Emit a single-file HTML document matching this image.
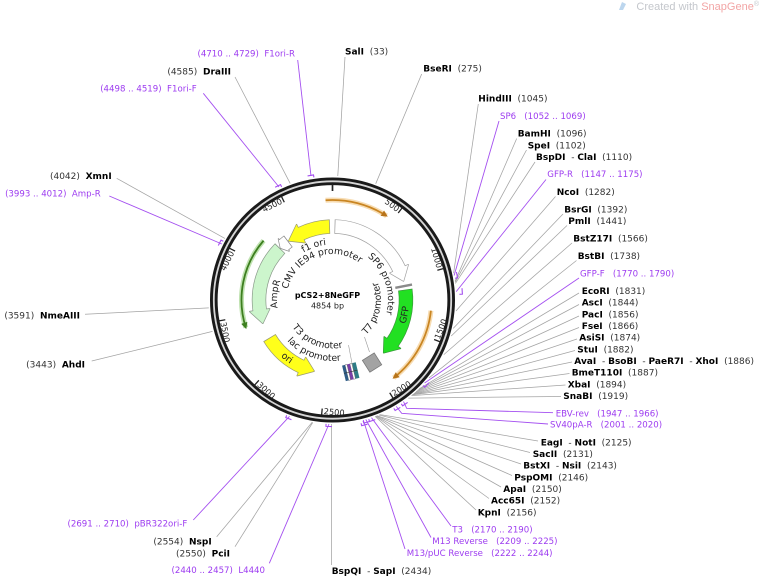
<!DOCTYPE html>
<html><head><meta charset="utf-8"><style>
html,body{margin:0;padding:0;background:#fff;width:760px;height:577px;overflow:hidden}
svg{display:block}
.n{font-weight:bold;fill:#000}
.p{fill:#9d3cf0;font-size:8.6px}
</style></head><body>
<svg xmlns="http://www.w3.org/2000/svg" width="760" height="577" viewBox="0 0 760 577" font-family="'DejaVu Sans','Liberation Sans',sans-serif">
<rect width="760" height="577" fill="#fff"/>
<defs>
<path id="ot" d="M -55.5,0 A 55.5 55.5 0 0 1 55.5,0"/>
<path id="ob" d="M -61,0 A 61 61 0 0 0 61,0"/>
<path id="it" d="M -46,0 A 46 46 0 0 1 46,0"/>
<path id="ib" d="M -48.5,0 A 48.5 48.5 0 0 0 48.5,0"/>
<path id="fb" d="M -76.6,0 A 76.6 76.6 0 0 0 76.6,0"/>
</defs>

<!-- watermark -->
<polygon points="619,10 622,2 626,4 623,10" fill="#bcd6ee"/>
<text x="759" y="10" text-anchor="end" font-family="'Liberation Sans',sans-serif" font-size="11" fill="#c4c7cc">Created with <tspan fill="#f2a5a5">SnapGene</tspan><tspan font-size="7" dy="-4">®</tspan></text>

<!-- leader lines gray -->
<g stroke="#a3a3a3" stroke-width="0.75" fill="none">
<line x1="345" y1="57" x2="337.8" y2="176"/>
<line x1="421.7" y1="74" x2="375.7" y2="183.8"/>
<line x1="235" y1="77" x2="290.2" y2="183.4"/>
<line x1="116.7" y1="178.3" x2="224.9" y2="238.4"/>
<line x1="85" y1="314.3" x2="208.8" y2="307.9"/>
<line x1="91.7" y1="361" x2="212.5" y2="331.4"/>
<line x1="216.7" y1="536.7" x2="312.2" y2="422.3"/>
<line x1="235" y1="546.7" x2="312.8" y2="422.4"/>
<line x1="331.4" y1="565" x2="331.4" y2="424"/>
<line x1="478.3" y1="104" x2="453.6" y2="273.2"/>
<line x1="516.7" y1="138.5" x2="455.1" y2="281.2"/>
<line x1="526.5" y1="150" x2="455.2" y2="282.2"/>
<line x1="535" y1="162" x2="455.4" y2="283.4"/>
<line x1="555.5" y1="196.5" x2="456" y2="311"/>
<line x1="563" y1="214" x2="453.2" y2="328.4"/>
<line x1="567" y1="225.5" x2="451.2" y2="336"/>
<line x1="572" y1="243" x2="443.8" y2="354.6"/>
<line x1="576.5" y1="260.5" x2="429" y2="377.9"/>
<line x1="579" y1="293" x2="419" y2="388.9"/>
<line x1="579" y1="304.5" x2="417.5" y2="390.3"/>
<line x1="579" y1="316" x2="416.1" y2="391.6"/>
<line x1="579" y1="327.5" x2="414.9" y2="392.7"/>
<line x1="577" y1="339" x2="413.9" y2="393.6"/>
<line x1="575" y1="350.5" x2="412.9" y2="394.4"/>
<line x1="572" y1="362" x2="412.4" y2="394.8"/>
<line x1="569.5" y1="373.5" x2="412.3" y2="394.9"/>
<line x1="565.5" y1="385" x2="411.4" y2="395.6"/>
<line x1="561" y1="396.5" x2="408.3" y2="398.1"/>
<line x1="538" y1="441" x2="379.8" y2="414.6"/>
<line x1="530" y1="452.5" x2="378.9" y2="415"/>
<line x1="521" y1="464" x2="377.1" y2="415.7"/>
<line x1="512" y1="475.5" x2="376.6" y2="415.9"/>
<line x1="501" y1="487" x2="376" y2="416.1"/>
<line x1="489" y1="498.5" x2="375.7" y2="416.2"/>
<line x1="476" y1="510" x2="375.1" y2="416.4"/>
</g>
<!-- leader lines purple -->
<g stroke="#a44ff0" stroke-width="0.9" fill="none">
<line x1="297.7" y1="60" x2="311" y2="176"/>
<line x1="203.3" y1="93.3" x2="279" y2="187"/>
<line x1="109.3" y1="196" x2="221.9" y2="244"/>
<line x1="193.3" y1="520" x2="289.5" y2="416.3"/>
<line x1="269.3" y1="563.3" x2="329" y2="424"/>
<line x1="499" y1="121" x2="454.1" y2="275.5"/>
<line x1="546" y1="179.5" x2="456.2" y2="291.6"/>
<line x1="579" y1="278" x2="424.6" y2="383"/>
<polyline points="553,412.7 406.7,408.3 403.5,401.6"/>
<polyline points="548,424 401.7,413.3 396.2,406.4"/>
<line x1="451" y1="526" x2="371.5" y2="417.7"/>
<line x1="431" y1="537.5" x2="365.8" y2="419.5"/>
<line x1="405" y1="549" x2="363.3" y2="420.1"/>
</g>

<g transform="translate(332.5 300)">
<!-- primer markers -->
<g stroke="#a44ff0" stroke-width="1.1" fill="none">
<path transform="rotate(350)" d="M -3,-126.5 H 3 V -124"/>
<path transform="rotate(334.4)" d="M -3,-126.5 H 3 V -124"/>
<path transform="rotate(296.9)" d="M -3,-126.5 H 3 V -124"/>
<path transform="rotate(200.3)" d="M -3,-126.5 H 3 V -124"/>
<path transform="rotate(181.6)" d="M -3,-126.5 H 3 V -124"/>
<path transform="rotate(78.6)" d="M -3,-127 H 3 V -124.5"/>
<path transform="rotate(86.1)" d="M -3,-130 H 3 V -127"/>
<path transform="rotate(132)" d="M -3,-127 H 3 V -124.5"/>
<path transform="rotate(145.1)" d="M -3,-127 H 3 V -124.5"/>
<path transform="rotate(149.1)" d="M -3,-127 H 3 V -124.5"/>
<path transform="rotate(161.7)" d="M -3,-127 H 3 V -124.5"/>
<path transform="rotate(164.4)" d="M -3,-127 H 3 V -124.5"/>
<path transform="rotate(165.6)" d="M -3,-129 H 3 V -126.5"/>
</g>

<!-- backbone -->
<circle r="118.7" fill="none" stroke="#1a1a1a" stroke-width="7.6"/>
<circle r="118.7" fill="none" stroke="#d6d6d6" stroke-width="1.8"/>

<!-- ticks -->
<g stroke="#222" stroke-width="1.3">
<line y1="-109" y2="-115.5" stroke-width="1.7"/>
<line transform="rotate(37.08)" y1="-109" y2="-116"/>
<line transform="rotate(74.17)" y1="-109" y2="-116"/>
<line transform="rotate(111.25)" y1="-109" y2="-116"/>
<line transform="rotate(148.33)" y1="-109" y2="-116"/>
<line transform="rotate(185.41)" y1="-109" y2="-116"/>
<line transform="rotate(222.5)" y1="-109" y2="-116"/>
<line transform="rotate(259.58)" y1="-109" y2="-116"/>
<line transform="rotate(296.66)" y1="-109" y2="-116"/>
<line transform="rotate(333.75)" y1="-109" y2="-116"/>
</g>
<g font-size="8.2" fill="#222">
<g transform="rotate(37.08)"><text x="-1.8" y="-108.8" text-anchor="end">500</text></g>
<g transform="rotate(74.17)"><text x="-1.8" y="-108.8" text-anchor="end">1000</text></g>
<g transform="rotate(-63.34)"><text x="-1.8" y="-108.8" text-anchor="end">4000</text></g>
<g transform="rotate(-26.25)"><text x="-1.8" y="-108.8" text-anchor="end">4500</text></g>
<g transform="rotate(-68.75)"><text x="1.8" y="114.3">1500</text></g>
<g transform="rotate(-31.67)"><text x="1.8" y="114.3">2000</text></g>
<g transform="rotate(5.41)"><text x="1.8" y="114.3">2500</text></g>
<g transform="rotate(42.5)"><text x="1.8" y="114.3">3000</text></g>
<g transform="rotate(79.58)"><text x="1.8" y="114.3">3500</text></g>
</g>

<!-- ORFs -->
<g fill="none">
<circle r="100" transform="rotate(-94)" stroke="#f2c47e" stroke-opacity="0.6" stroke-width="5" stroke-dasharray="64.05 700"/>
<circle r="100" transform="rotate(-94)" stroke="#c98522" stroke-width="1.8" stroke-dasharray="64.05 700"/>
<circle r="99" transform="rotate(6.2)" stroke="#f2c47e" stroke-opacity="0.6" stroke-width="5" stroke-dasharray="78.79 700"/>
<circle r="99" transform="rotate(6.2)" stroke="#c98522" stroke-width="1.8" stroke-dasharray="78.79 700"/>
<circle r="91" transform="rotate(162.3)" stroke="#a4d68e" stroke-opacity="0.7" stroke-width="5" stroke-dasharray="92.76 700"/>
<circle r="91" transform="rotate(162.3)" stroke="#3d7f1f" stroke-width="1.8" stroke-dasharray="92.76 700"/>
</g>
<polygon transform="rotate(32.7)" points="-5,-103.2 -5,-96.8 1.5,-100" fill="#b8741a"/>
<polygon transform="rotate(141.8)" points="-5,-102.2 -5,-95.8 1.5,-99" fill="#b8741a"/>
<polygon transform="rotate(252.3)" points="5,-94.2 5,-87.8 -1.5,-91" fill="#3d7f1f"/>

<!-- feature outlines -->
<g fill="none" stroke-width="14.4">
<circle r="73.5" transform="rotate(244)" stroke="#9a9a70" stroke-dasharray="30.79 700"/>
<circle r="73.5" transform="rotate(-88.4)" stroke="#a0a0a0" stroke-dasharray="81.97 700"/>
<circle r="73.5" transform="rotate(-8.1)" stroke="#3a9a3a" stroke-dasharray="56.57 700"/>
<circle r="73.5" transform="rotate(114.5)" stroke="#9a9a70" stroke-dasharray="44.39 700"/>
<circle r="73.5" transform="rotate(171.5)" stroke="#8a9a8a" stroke-dasharray="68.12 700"/>
<circle r="73.5" transform="rotate(228)" stroke="#888" stroke-dasharray="6.54 700"/>
</g>
<g stroke-width="1.4" stroke-linejoin="round">
<polygon transform="rotate(334.5)" points="0,-83.5 0,-63.5 -14.03,-72.15" fill="#9a9a70" stroke="#9a9a70"/>
<polygon transform="rotate(65)" points="0,-83.5 0,-63.5 12.76,-72.38" fill="#a0a0a0" stroke="#a0a0a0"/>
<polygon transform="rotate(125.5)" points="0,-83.5 0,-63.5 13.27,-72.29" fill="#3a9a3a" stroke="#3a9a3a"/>
<polygon transform="rotate(205)" points="0,-83.5 0,-63.5 -13.39,-72.27" fill="#9a9a70" stroke="#9a9a70"/>
<polygon transform="rotate(262)" points="0,-83.5 0,-63.5 -13.39,-72.27" fill="#8a9a8a" stroke="#8a9a8a"/>
<polygon transform="rotate(318.5)" points="0,-81.5 0,-65.5 -4.49,-73.36" fill="#888" stroke="#888"/>
</g>
<!-- feature fills -->
<g fill="none" stroke-width="13">
<circle r="73.5" transform="rotate(244)" stroke="#ffff1a" stroke-dasharray="30.02 700"/>
<circle r="73.5" transform="rotate(-87.8)" stroke="#ffffff" stroke-dasharray="81.2 700"/>
<circle r="73.5" transform="rotate(-7.5)" stroke="#22e022" stroke-dasharray="55.8 700"/>
<circle r="73.5" transform="rotate(114.5)" stroke="#ffff1a" stroke-dasharray="43.62 700"/>
<circle r="73.5" transform="rotate(171.5)" stroke="#ccf5cc" stroke-dasharray="67.35 700"/>
<circle r="73.5" transform="rotate(228)" stroke="#ffffff" stroke-dasharray="5.77 700"/>
</g>
<polygon transform="rotate(334.5)" points="0,-83.5 0,-63.5 -14.03,-72.15" fill="#ffff1a"/>
<polygon transform="rotate(65)" points="0,-83.5 0,-63.5 12.76,-72.38" fill="#ffffff"/>
<polygon transform="rotate(125.5)" points="0,-83.5 0,-63.5 13.27,-72.29" fill="#22e022"/>
<polygon transform="rotate(205)" points="0,-83.5 0,-63.5 -13.39,-72.27" fill="#ffff1a"/>
<polygon transform="rotate(262)" points="0,-83.5 0,-63.5 -13.39,-72.27" fill="#ccf5cc"/>
<polygon transform="rotate(318.5)" points="0,-81.5 0,-65.5 -4.49,-73.36" fill="#ffffff"/>

<!-- small features -->
<line transform="rotate(79)" x1="0" y1="-64" x2="0" y2="-81" stroke="#8a8a8a" stroke-width="2.4"/>
<polygon transform="rotate(147.7)" points="-7,-81 7,-81 7,-67 -7,-67" fill="#a3a3a3" stroke="#7a7a7a" stroke-width="0.8"/>
<g transform="rotate(166.5)">
<rect x="-8" y="-82" width="4" height="16" fill="#2e7c86"/>
<rect x="-4" y="-82" width="2" height="16" fill="#fff" stroke="#555" stroke-width="0.4"/>
<rect x="-2" y="-82" width="3" height="16" fill="#7a3ea8"/>
<rect x="1" y="-82" width="2" height="16" fill="#fff" stroke="#555" stroke-width="0.4"/>
<rect x="3" y="-82" width="3" height="16" fill="#2e5c86"/>
<line x1="-8" y1="-74" x2="6" y2="-74" stroke="#333" stroke-width="0.6"/>
</g>
<g stroke="#999" stroke-width="0.6">
<line x1="32" y1="37" x2="37" y2="52"/>
<line x1="16" y1="45" x2="20" y2="66"/>
</g>

<!-- feature labels -->
<g font-size="9.3" fill="#222">
<g transform="rotate(-19)"><text><textPath href="#ot" startOffset="50%" text-anchor="middle">f1 ori</textPath></text></g>
<g transform="rotate(-84)"><text><textPath href="#ot" startOffset="50%" text-anchor="middle">AmpR</textPath></text></g>
<g transform="rotate(72)"><text><textPath href="#ot" startOffset="50%" text-anchor="middle">SP6 promoter</textPath></text></g>
<g transform="rotate(20)"><text><textPath href="#ob" startOffset="50%" text-anchor="middle">lac promoter</textPath></text></g>
<g transform="rotate(-20)"><text><textPath href="#it" startOffset="50%" text-anchor="middle">CMV IE94 promoter</textPath></text></g>
<g transform="rotate(-78)"><text><textPath href="#ib" startOffset="50%" text-anchor="middle">T7 promoter</textPath></text></g>
<g transform="rotate(22)"><text><textPath href="#ib" startOffset="50%" text-anchor="middle">T3 promoter</textPath></text></g>
<g transform="rotate(-78.4)"><text><textPath href="#fb" startOffset="50%" text-anchor="middle">GFP</textPath></text></g>
<g transform="rotate(38)"><text><textPath href="#fb" startOffset="50%" text-anchor="middle">ori</textPath></text></g>
</g>
</g>

<!-- center -->
<text x="327.5" y="298" text-anchor="middle" font-size="8" font-weight="bold" fill="#000">pCS2+8NeGFP</text>
<text x="327.5" y="308.5" text-anchor="middle" font-size="8" fill="#222">4854 bp</text>

<!-- left labels -->
<g font-size="9" fill="#333" text-anchor="end">
<text class="p" x="295" y="56.4">(4710 .. 4729)&#160;&#160;F1ori-R</text>
<text x="231" y="74.3">(4585)&#160;&#160;<tspan class="n">DraIII</tspan></text>
<text class="p" x="196.7" y="91.4">(4498 .. 4519)&#160;&#160;F1ori-F</text>
<text x="111.7" y="179">(4042)&#160;&#160;<tspan class="n">XmnI</tspan></text>
<text class="p" x="100.7" y="196.4">(3993 .. 4012)&#160;&#160;Amp-R</text>
<text x="80" y="318.3">(3591)&#160;&#160;<tspan class="n">NmeAIII</tspan></text>
<text x="85" y="367.3">(3443)&#160;&#160;<tspan class="n">AhdI</tspan></text>
<text class="p" x="187.3" y="526.4">(2691 .. 2710)&#160;&#160;pBR322ori-F</text>
<text x="211.7" y="544.3">(2554)&#160;&#160;<tspan class="n">NspI</tspan></text>
<text x="230" y="556.6">(2550)&#160;&#160;<tspan class="n">PciI</tspan></text>
<text class="p" x="265" y="573.1">(2440 .. 2457)&#160;&#160;L4440</text>
</g>

<!-- right labels -->
<g font-size="9" fill="#333">
<text x="345" y="54.3"><tspan class="n">SalI</tspan>&#160;&#160;(33)</text>
<text x="423.3" y="71.6"><tspan class="n">BseRI</tspan>&#160;&#160;(275)</text>
<text x="478.3" y="101.6"><tspan class="n">HindIII</tspan>&#160;&#160;(1045)</text>
<text class="p" x="500" y="119.1">SP6&#160;&#160;&#160;(1052 .. 1069)</text>
<text x="517.7" y="136.6"><tspan class="n">BamHI</tspan>&#160;&#160;(1096)</text>
<text x="527.7" y="148.3"><tspan class="n">SpeI</tspan>&#160;&#160;(1102)</text>
<text x="536" y="160"><tspan class="n">BspDI</tspan>&#160;&#160;-&#160;<tspan class="n">ClaI</tspan>&#160;&#160;(1110)</text>
<text class="p" x="547.3" y="177.1">GFP-R&#160;&#160;&#160;(1147 .. 1175)</text>
<text x="556.7" y="195"><tspan class="n">NcoI</tspan>&#160;&#160;(1282)</text>
<text x="564.3" y="212.6"><tspan class="n">BsrGI</tspan>&#160;&#160;(1392)</text>
<text x="568.3" y="224"><tspan class="n">PmlI</tspan>&#160;&#160;(1441)</text>
<text x="573.3" y="241.6"><tspan class="n">BstZ17I</tspan>&#160;&#160;(1566)</text>
<text x="577.7" y="259"><tspan class="n">BstBI</tspan>&#160;&#160;(1738)</text>
<text class="p" x="580" y="276.4">GFP-F&#160;&#160;&#160;(1770 .. 1790)</text>
<text x="581.7" y="294"><tspan class="n">EcoRI</tspan>&#160;&#160;(1831)</text>
<text x="581.7" y="305.6"><tspan class="n">AscI</tspan>&#160;&#160;(1844)</text>
<text x="581.7" y="317.3"><tspan class="n">PacI</tspan>&#160;&#160;(1856)</text>
<text x="581.7" y="329"><tspan class="n">FseI</tspan>&#160;&#160;(1866)</text>
<text x="579.3" y="340.6"><tspan class="n">AsiSI</tspan>&#160;&#160;(1874)</text>
<text x="577.3" y="352.3"><tspan class="n">StuI</tspan>&#160;&#160;(1882)</text>
<text x="574.3" y="364"><tspan class="n">AvaI</tspan>&#160;&#160;-&#160;<tspan class="n">BsoBI</tspan>&#160;&#160;-&#160;<tspan class="n">PaeR7I</tspan>&#160;&#160;-&#160;<tspan class="n">XhoI</tspan>&#160;&#160;(1886)</text>
<text x="571.7" y="375.6"><tspan class="n">BmeT110I</tspan>&#160;&#160;(1887)</text>
<text x="567.7" y="387.3"><tspan class="n">XbaI</tspan>&#160;&#160;(1894)</text>
<text x="563.3" y="399"><tspan class="n">SnaBI</tspan>&#160;&#160;(1919)</text>
<text class="p" x="555.7" y="416.4">EBV-rev&#160;&#160;&#160;(1947 .. 1966)</text>
<text class="p" x="550" y="427.4">SV40pA-R&#160;&#160;&#160;(2001 .. 2020)</text>
<text x="540.7" y="445.6"><tspan class="n">EagI</tspan>&#160;&#160;-&#160;<tspan class="n">NotI</tspan>&#160;&#160;(2125)</text>
<text x="532.7" y="457"><tspan class="n">SacII</tspan>&#160;&#160;(2131)</text>
<text x="523.3" y="468.6"><tspan class="n">BstXI</tspan>&#160;&#160;-&#160;<tspan class="n">NsiI</tspan>&#160;&#160;(2143)</text>
<text x="514.3" y="480.3"><tspan class="n">PspOMI</tspan>&#160;&#160;(2146)</text>
<text x="503.3" y="492"><tspan class="n">ApaI</tspan>&#160;&#160;(2150)</text>
<text x="491" y="503.6"><tspan class="n">Acc65I</tspan>&#160;&#160;(2152)</text>
<text x="477.7" y="515.3"><tspan class="n">KpnI</tspan>&#160;&#160;(2156)</text>
<text class="p" x="452.3" y="532.4">T3&#160;&#160;&#160;(2170 .. 2190)</text>
<text class="p" x="432.3" y="544.1">M13 Reverse&#160;&#160;&#160;(2209 .. 2225)</text>
<text class="p" x="406.7" y="555.8">M13/pUC Reverse&#160;&#160;&#160;(2222 .. 2244)</text>
<text x="331.7" y="574"><tspan class="n">BspQI</tspan>&#160;&#160;-&#160;<tspan class="n">SapI</tspan>&#160;&#160;(2434)</text>
</g>
</svg>
</body></html>
